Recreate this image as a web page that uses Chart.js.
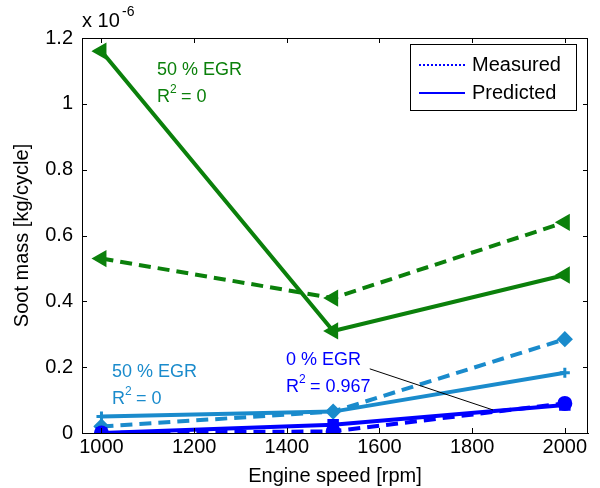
<!DOCTYPE html>
<html>
<head>
<meta charset="utf-8">
<script src="https://cdn.jsdelivr.net/npm/chart.js@4.4.0/dist/chart.umd.min.js"></script>
<style>
  html, body { margin: 0; padding: 0; background: #fff; }
  #wrap { width: 600px; height: 488px; }
</style>
</head>
<body>
<div id="wrap"><canvas id="sootChart" width="600" height="488"></canvas></div>
<script>
// engine speeds [rpm] and soot mass [x 1e-6 kg/cycle]
const speeds = [1000, 1500, 2000];
const green50Measured = [0.53, 0.41, 0.64];
const green50Predicted = [1.16, 0.31, 0.48];
const cyan50Measured = [0.02, 0.065, 0.285];
const cyan50Predicted = [0.05, 0.065, 0.183];
const egr0Measured = [0.0, 0.005, 0.09];
const egr0Predicted = [0.0, 0.025, 0.085];

const xTicks = [1000, 1200, 1400, 1600, 1800, 2000];
const yTicks = [0, 0.2, 0.4, 0.6, 0.8, 1, 1.2];

const GREEN = "#0b800b";
const CYAN = "#1a8bcc";
const BLUE = "#0000ff";
const FONT = "Liberation Sans, Arial, sans-serif";

function pts(ys) {
    return speeds.map(function (s, i) { return { x: s, y: ys[i] }; });
}

function series(label, ys, color, dashed, style, radius, rot) {
    return {
        label: label,
        data: pts(ys),
        borderColor: color,
        backgroundColor: color,
        borderWidth: 4,
        borderDash: dashed ? [12, 7] : [],
        pointStyle: style,
        pointRadius: radius,
        pointRotation: rot || 0,
        pointBorderWidth: 3,
        pointBackgroundColor: color,
        pointBorderColor: color,
        tension: 0
    };
}

// inward ticks, full box, legend, text labels, leader line
const decor = {
    id: "decor",
    afterDraw: function (chart) {
        const c = chart.ctx, a = chart.chartArea;
        const xs = chart.scales.x, ys = chart.scales.y;
        c.save();
        c.strokeStyle = "#000";
        c.lineWidth = 1;
        c.setLineDash([]);
        c.strokeRect(a.left + 0.5, a.top + 0.5, a.right - a.left - 1, a.bottom - a.top);
        c.beginPath();
        xTicks.forEach(function (v) {
            const px = Math.round(xs.getPixelForValue(v)) + 0.5;
            c.moveTo(px, a.bottom); c.lineTo(px, a.bottom - 5);
            c.moveTo(px, a.top); c.lineTo(px, a.top + 5);
        });
        yTicks.forEach(function (v) {
            const py = Math.round(ys.getPixelForValue(v)) + 0.5;
            c.moveTo(a.left, py); c.lineTo(a.left + 5, py);
            c.moveTo(a.right, py); c.lineTo(a.right - 5, py);
        });
        c.stroke();

        // leader line for the 0 % EGR label
        c.beginPath();
        c.moveTo(xs.getPixelForValue(1579), ys.getPixelForValue(0.195));
        c.lineTo(xs.getPixelForValue(1845), ys.getPixelForValue(0.07));
        c.stroke();

        // exponent
        c.fillStyle = "#000";
        c.textBaseline = "alphabetic";
        c.textAlign = "left";
        c.font = "20px " + FONT;
        c.fillText("x 10", 82, 27);
        c.font = "14px " + FONT;
        c.fillText("-6", 122, 16);

        function label(txt1, r2, x, y, color) {
            c.fillStyle = color;
            c.font = "18px " + FONT;
            c.fillText(txt1, x, y);
            c.fillText("R", x, y + 27);
            const w = c.measureText("R").width;
            c.font = "12px " + FONT;
            c.fillText("2", x + w, y + 18);
            c.font = "18px " + FONT;
            c.fillText(" = " + r2, x + w + 6, y + 27);
        }
        label("50 % EGR", "0", 157, 75, GREEN);
        label("50 % EGR", "0", 112, 377, CYAN);
        label("0 % EGR", "0.967", 286, 365, BLUE);

        // legend
        c.fillStyle = "#fff";
        c.fillRect(410, 44, 167, 66);
        c.strokeStyle = "#000";
        c.strokeRect(410.5, 44.5, 166, 66);
        c.strokeStyle = BLUE;
        c.lineWidth = 2;
        c.setLineDash([2, 2]);
        c.beginPath(); c.moveTo(419, 65); c.lineTo(465, 65); c.stroke();
        c.setLineDash([]);
        c.beginPath(); c.moveTo(419, 93); c.lineTo(465, 93); c.stroke();
        c.fillStyle = "#000";
        c.font = "20px " + FONT;
        c.textBaseline = "middle";
        c.fillText("Measured", 472, 65);
        c.fillText("Predicted", 472, 93);
        c.restore();
    }
};

const ctx = document.getElementById("sootChart").getContext("2d");
new Chart(ctx, {
    type: "line",
    data: {
        datasets: [
            series("0 % EGR measured", egr0Measured, BLUE, true, "circle", 6),
            series("0 % EGR predicted", egr0Predicted, BLUE, false, "rect", 6),
            series("50 % EGR measured", cyan50Measured, CYAN, true, "rectRot", 6),
            series("50 % EGR predicted", cyan50Predicted, CYAN, false, "cross", 5),
            series("50 % EGR measured (2)", green50Measured, GREEN, true, "triangle", 7, -90),
            series("50 % EGR predicted (2)", green50Predicted, GREEN, false, "triangle", 7, -90)
        ]
    },
    options: {
        responsive: false,
        animation: false,
        layout: { padding: { top: 38, right: 12, left: 0, bottom: 0 } },
        plugins: {
            legend: { display: false },
            tooltip: { enabled: false }
        },
        scales: {
            x: {
                type: "linear",
                min: 958,
                max: 2050,
                afterBuildTicks: function (s) { s.ticks = xTicks.map(function (v) { return { value: v }; }); },
                afterFit: function (s) { s.height = 55; },
                grid: { display: false, drawTicks: false },
                border: { display: true, color: "#000", width: 1 },
                ticks: {
                    color: "#000", padding: 2, maxRotation: 0, font: { family: FONT, size: 20 },
                    callback: function (v) { return String(v); }
                },
                title: { display: true, text: "Engine speed [rpm]", color: "#000", padding: { top: 0, bottom: 0 }, font: { family: FONT, size: 20 } }
            },
            y: {
                min: 0,
                max: 1.2,
                afterBuildTicks: function (s) { s.ticks = yTicks.map(function (v) { return { value: v }; }); },
                afterFit: function (s) { s.width = 82; },
                grid: { display: false, drawTicks: false },
                border: { display: true, color: "#000", width: 1 },
                ticks: {
                    color: "#000", padding: 9, font: { family: FONT, size: 20 },
                    callback: function (v) { return String(parseFloat(v.toFixed(1))); }
                },
                title: { display: true, text: "Soot mass [kg/cycle]", color: "#000", padding: { top: 10, bottom: 0 }, font: { family: FONT, size: 20 } }
            }
        }
    },
    plugins: [decor]
});
</script>
</body>
</html>
